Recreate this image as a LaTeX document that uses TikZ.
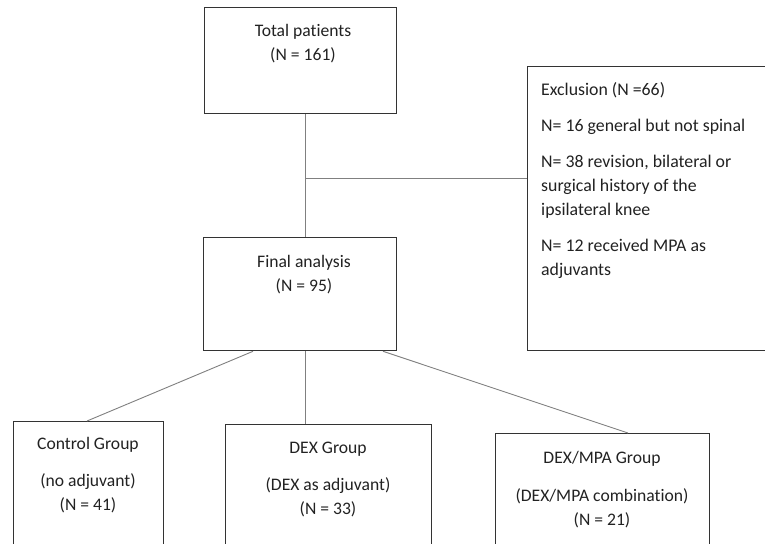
\documentclass[tikz,border=0pt]{standalone}
\usepackage{fontspec}
\setmainfont{Carlito}[Ligatures={NoCommon}]
\usetikzlibrary{calc}
\definecolor{boxline}{HTML}{333333}
\definecolor{conn}{HTML}{808080}
\definecolor{txt}{HTML}{222222}
\begin{document}
\begin{tikzpicture}[x=1pt,y=-1pt,
  box/.style={draw=boxline,line width=1.3pt,rectangle,inner sep=0pt,anchor=north west},
  lbl/.style={text=txt,inner sep=0pt,anchor=north,align=center,font=\fontsize{17.6}{24}\selectfont},
  lbll/.style={text=txt,inner sep=0pt,anchor=north west,align=left,font=\fontsize{17.8}{24}\selectfont},
  link/.style={draw=conn,line width=0.9pt}]
\useasboundingbox (0,0) rectangle (765,543);
\clip (0,0) rectangle (765,543);
\fill[white] (0,0) rectangle (765,543);
% boxes
\node[box,minimum width=192pt,minimum height=106pt] (total) at (204,7) {};
\node[box,minimum width=193pt,minimum height=113pt] (final) at (203,237) {};
\node[box,minimum width=260pt,minimum height=284pt] (excl) at (527,66) {};
\node[box,minimum width=150pt,minimum height=140pt] (ctrl) at (13,421) {};
\node[box,minimum width=206pt,minimum height=140pt] (dex) at (225,424) {};
\node[box,minimum width=214pt,minimum height=140pt] (dexmpa) at (495,433) {};
% texts
\node[lbl] (total-t) at (303,24) {Total patients\\(N = 161)};
\node[lbl] (final-t) at (304,255) {Final analysis\\(N = 95)};
\node[lbll] (excl-t) at (541,82) {Exclusion (N =66)\\[12pt]
N= 16 general but not spinal\\[12pt]
N= 38 revision, bilateral or\\
surgical history of the\\
ipsilateral knee\\[12pt]
N= 12 received MPA as\\
adjuvants};
\node[lbl] (ctrl-t) at (88,437) {Control Group\\[13pt](no adjuvant)\\(N = 41)};
\node[lbl] (dex-t) at (328,442) {DEX Group\\[13pt](DEX as adjuvant)\\(N = 33)};
\node[lbl] (dexmpa-t) at (602,451) {DEX/MPA Group\\[14pt](DEX/MPA combination)\\(N = 21)};
% connector helper coordinates
\coordinate (v) at (305,0);
\coordinate (h) at (305,178);
\coordinate (fl) at (253,0);
\coordinate (fr) at (383,0);
\coordinate (cl) at (87,0);
\coordinate (dr) at (628,0);
% connectors
\draw[link] (total.south -| v) -- (final.north -| v);
\draw[link] (h) -- (h -| excl.west);
\draw[link] (final.south -| fl) -- (ctrl.north -| cl);
\draw[link] (final.south -| v) -- (dex.north -| v);
\draw[link] (final.south -| fr) -- (dexmpa.north -| dr);
\end{tikzpicture}
\end{document}
